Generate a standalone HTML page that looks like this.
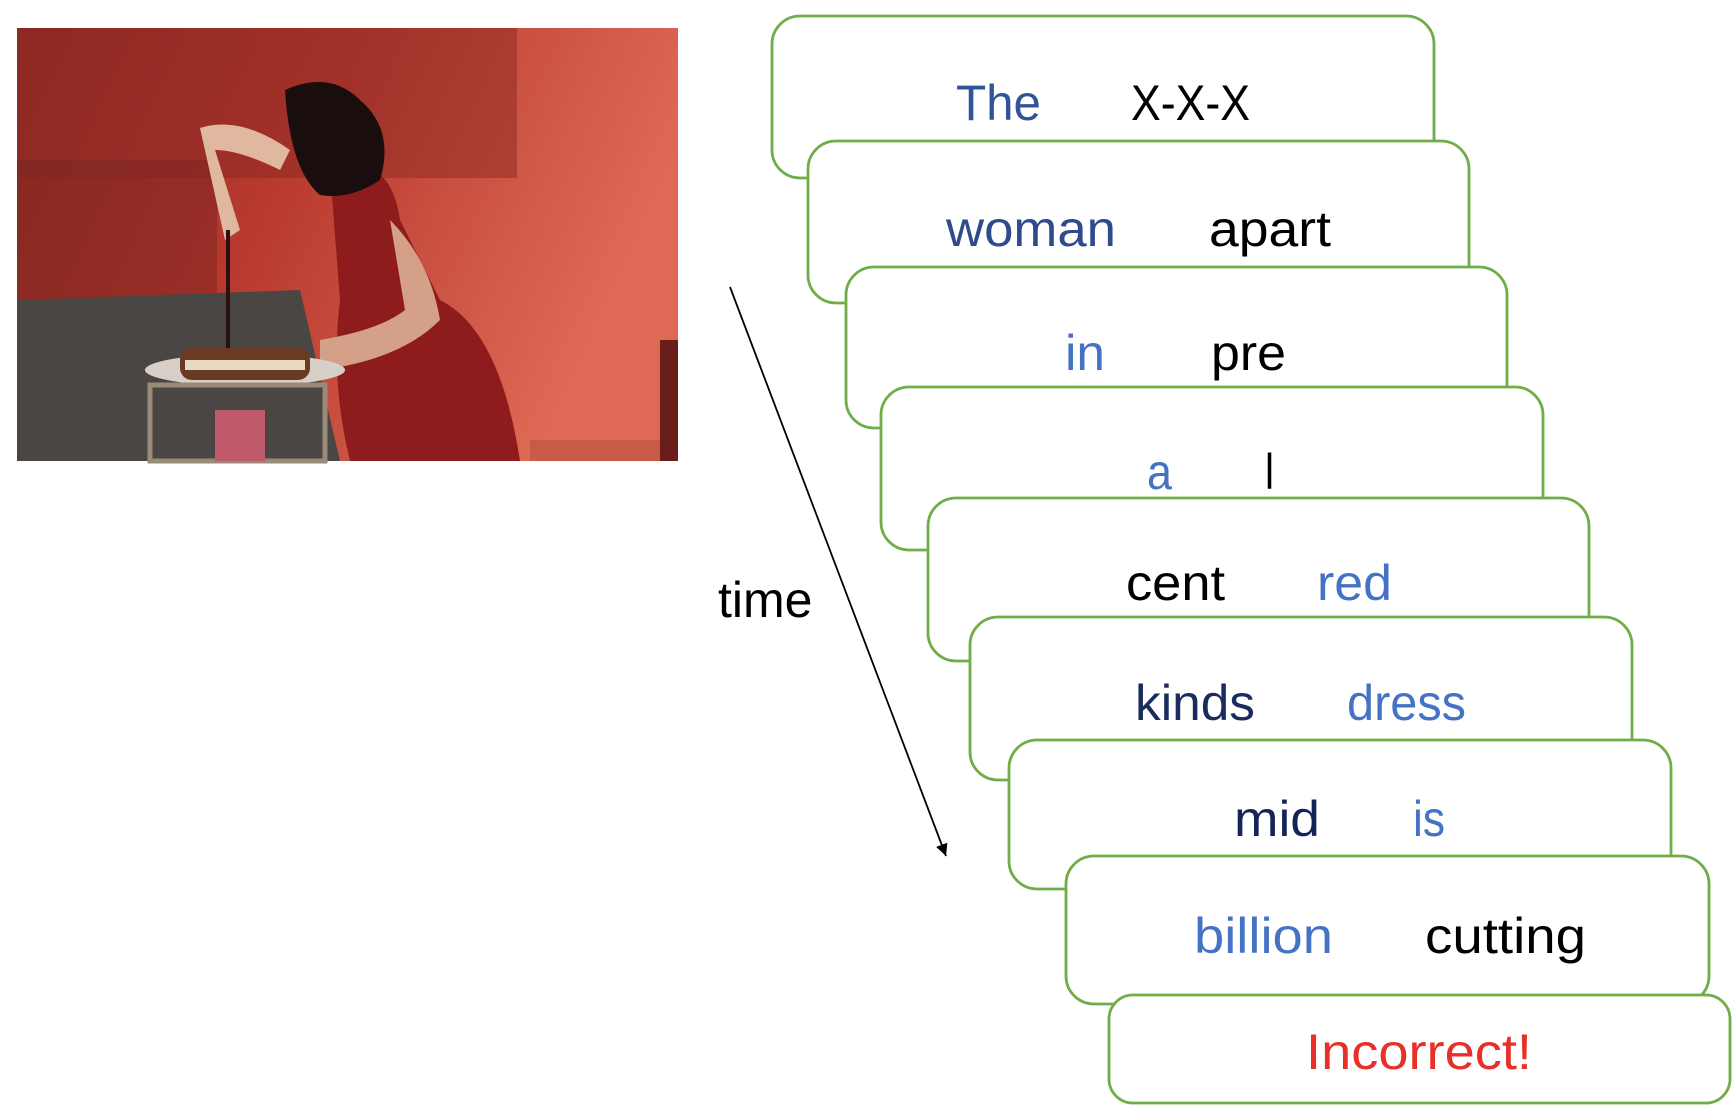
<!DOCTYPE html>
<html><head><meta charset="utf-8"><style>
html,body{margin:0;padding:0;background:#fff;}
svg{display:block;}
text{font-family:"Liberation Sans",sans-serif;font-size:50px;}
</style></head><body>
<svg width="1734" height="1108" viewBox="0 0 1734 1108" xmlns="http://www.w3.org/2000/svg">
<defs>
<linearGradient id="wall" x1="0" y1="0" x2="1" y2="0.3">
<stop offset="0" stop-color="#8e2a22"/><stop offset="0.45" stop-color="#b8392e"/><stop offset="1" stop-color="#de6a55"/>
</linearGradient>
<marker id="ah" markerWidth="12" markerHeight="12" refX="10" refY="5" orient="auto" markerUnits="userSpaceOnUse" viewBox="0 0 10 10">
<path d="M0,0 L10,5 L0,10 z" fill="#000"/></marker>
</defs>
<rect x="17" y="28" width="661" height="433" fill="url(#wall)"/>
<rect x="17" y="28" width="500" height="150" fill="#8a2822" opacity="0.5"/>
<rect x="17" y="160" width="200" height="150" fill="#7a2420" opacity="0.5"/>
<polygon points="17,300 300,290 340,461 17,461" fill="#4a4644"/>
<rect x="530" y="440" width="148" height="21" fill="#c95a48"/>
<rect x="660" y="340" width="18" height="121" fill="#6a1e1a"/>
<path d="M330,170 Q390,150 400,220 L440,300 Q500,330 520,461 L350,461 Q330,380 340,300 Z" fill="#8e1c1c"/>
<path d="M285,90 Q330,70 360,100 Q395,130 380,180 Q350,200 320,195 Q290,170 285,90 Z" fill="#1a0d0d"/>
<path d="M200,128 Q240,115 290,150 L280,170 Q240,150 215,150 L240,230 L225,240 Z" fill="#e0b8a0"/>
<path d="M390,220 Q430,260 440,320 Q400,360 320,370 L320,340 Q380,330 405,310 Z" fill="#d4a088"/>
<rect x="226" y="230" width="4" height="125" fill="#2a1010"/>
<ellipse cx="245" cy="370" rx="100" ry="16" fill="#d8d0c8"/>
<rect x="180" y="348" width="130" height="32" rx="12" fill="#6a3a22"/>
<rect x="185" y="360" width="120" height="10" fill="#e8dcc0"/>
<rect x="150" y="385" width="175" height="76" fill="none" stroke="#9a8a78" stroke-width="5"/>
<rect x="215" y="410" width="50" height="51" fill="#c05a6a"/>
<line x1="730" y1="287" x2="946" y2="856" stroke="#000" stroke-width="1.8" marker-end="url(#ah)"/>
<text x="718" y="617" fill="#000">time</text>
<g fill="#fff" stroke="#70ad47" stroke-width="2.8">
<rect x="772" y="16" width="662" height="162" rx="28"/>
<rect x="808" y="141" width="661" height="162" rx="28"/>
<rect x="846" y="267" width="661" height="161" rx="28"/>
<rect x="881" y="387" width="662" height="163" rx="28"/>
<rect x="928" y="498" width="661" height="163" rx="28"/>
<rect x="970" y="617" width="662" height="163" rx="28"/>
<rect x="1009" y="740" width="662" height="149" rx="28"/>
<rect x="1066" y="856" width="643" height="148" rx="28"/>
<rect x="1109" y="995" width="621" height="108" rx="24"/>
</g>
<g>
<text x="956" y="120" fill="#2f5597" textLength="85" lengthAdjust="spacingAndGlyphs">The</text>
<text x="1131" y="120" fill="#000" textLength="119" lengthAdjust="spacingAndGlyphs">X-X-X</text>
<text x="946" y="246" fill="#2f4b8c" textLength="170" lengthAdjust="spacingAndGlyphs">woman</text>
<text x="1209" y="246" fill="#000" textLength="122" lengthAdjust="spacingAndGlyphs">apart</text>
<text x="1065" y="370" fill="#4472c4" textLength="40" lengthAdjust="spacingAndGlyphs">in</text>
<text x="1211" y="370" fill="#000" textLength="75" lengthAdjust="spacingAndGlyphs">pre</text>
<text x="1147" y="489" fill="#4472c4" textLength="25" lengthAdjust="spacingAndGlyphs">a</text>
<text x="1265" y="489" fill="#000" textLength="9" lengthAdjust="spacingAndGlyphs">l</text>
<text x="1126" y="600" fill="#000" textLength="99" lengthAdjust="spacingAndGlyphs">cent</text>
<text x="1317" y="600" fill="#4472c4" textLength="75" lengthAdjust="spacingAndGlyphs">red</text>
<text x="1135" y="720" fill="#1a2b5e" textLength="120" lengthAdjust="spacingAndGlyphs">kinds</text>
<text x="1347" y="720" fill="#4472c4" textLength="119" lengthAdjust="spacingAndGlyphs">dress</text>
<text x="1234" y="836" fill="#14245a" textLength="86" lengthAdjust="spacingAndGlyphs">mid</text>
<text x="1413" y="836" fill="#4472c4" textLength="32" lengthAdjust="spacingAndGlyphs">is</text>
<text x="1194" y="953" fill="#4472c4" textLength="139" lengthAdjust="spacingAndGlyphs">billion</text>
<text x="1425" y="953" fill="#000" textLength="161" lengthAdjust="spacingAndGlyphs">cutting</text>
<text x="1306" y="1069" fill="#e8302a" textLength="226" lengthAdjust="spacingAndGlyphs">Incorrect!</text>
</g>
</svg>
</body></html>
